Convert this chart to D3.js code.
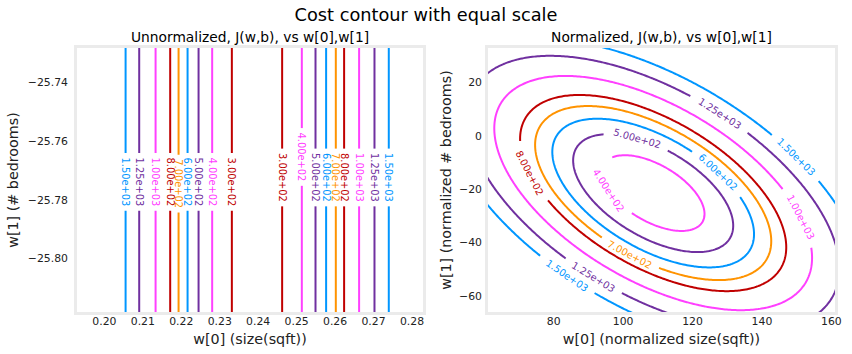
<!DOCTYPE html>
<html><head><meta charset="utf-8">
<script src="https://cdn.jsdelivr.net/npm/d3@7"></script>
<style>body{margin:0;background:#fff}svg text{font-family:"DejaVu Sans",sans-serif}</style>
</head><body><svg id="c" width="852" height="354"></svg>
<script>
// ---------------- data ----------------
const supTitle = "Cost contour with equal scale";
const leftTitle = "Unnormalized, J(w,b), vs w[0],w[1]";
const rightTitle = "Normalized, J(w,b), vs w[0],w[1]";
const leftXLabel = "w[0] (size(sqft))";
const leftYLabel = "w[1] (# bedrooms)";
const rightXLabel = "w[0] (normalized size(sqft))";
const rightYLabel = "w[1] (normalized # bedrooms)";

const contourLevels = [100, 200, 300, 400, 500, 600, 700, 800, 1000, 1250, 1500];
const levelColors = ["#0096ff", "#ff9300", "#c00000", "#ff40ff", "#7030a0"];

// left panel (unnormalized): contour lines are vertical at these w[0]
const leftXDomain = [0.193, 0.283];
const leftYDomain = [-25.81826, -25.72826];
const leftXTicks = [0.20, 0.21, 0.22, 0.23, 0.24, 0.25, 0.26, 0.27, 0.28];
const leftYTicks = [-25.80, -25.78, -25.76, -25.74];
const leftLineLevel = [1500, 1250, 1000, 800, 700, 600, 500, 400, 300, 300, 400, 500, 600, 700, 800, 1000, 1250, 1500];
const leftLineW0 = [0.20564, 0.20918, 0.21344, 0.21724, 0.21942, 0.22176, 0.22462, 0.22816, 0.23328,
                    0.24636, 0.25148, 0.25504, 0.25780, 0.26032, 0.26248, 0.26638, 0.27038, 0.27410];
const leftLabelW1 = [-25.7739, -25.7739, -25.7739, -25.7739, -25.7745, -25.7739, -25.7739, -25.7739, -25.7739,
                     -25.7724, -25.7654, -25.7724, -25.7724, -25.7724, -25.7724, -25.7724, -25.7724, -25.7724];

// right panel (normalized): quadratic cost surface
const rightXDomain = [61.2, 161.2];
const rightYDomain = [-66.1, 32.9];
const rightXTicks = [80, 100, 120, 140, 160];
const rightYTicks = [-60, -40, -20, 0, 20];
const costCenter = [108.8, -21.5];   // w[0], w[1] at minimum
const costMin = 330;
const costQuad = [0.46, 0.265, 0.50]; // a, b, c : J = Jmin + a dx^2 + 2b dx dy + c dy^2
const rightLabelLevel = [800, 400, 500, 600, 1250, 1500, 1000, 700, 1250, 1500];
const rightLabelW0 = [74.2, 95.8, 104.3, 127.8, 128.3, 149.7, 150.8, 102.7, 92.0, 84.3];
const rightLabelW1 = [-13.2, -20.3, -0.85, -13.6, 8.5, -8.2, -30.8, -43.6, -52.0, -51.3];

// ---------------- drawing ----------------
const svg = d3.select("#c");
const colorOf = lv => levelColors[contourLevels.indexOf(lv) % levelColors.length];
const fmtLabel = v => { const e = Math.floor(Math.log10(v)); const m = v / Math.pow(10, e); return m.toFixed(2) + "e+" + String(e).padStart(2, "0"); };

const Lp = {x0: 77, x1: 423, y0: 48, y1: 312};
const Rp = {x0: 488, x1: 835, y0: 48, y1: 312};
const lx = d3.scaleLinear().domain(leftXDomain).range([Lp.x0, Lp.x1]);
const ly = d3.scaleLinear().domain(leftYDomain).range([Lp.y1, Lp.y0]);
const rx = d3.scaleLinear().domain(rightXDomain).range([Rp.x0, Rp.x1]);
const ry = d3.scaleLinear().domain(rightYDomain).range([Rp.y1, Rp.y0]);

const defs = svg.append("defs");
[["clipL", Lp], ["clipR", Rp]].forEach(([id, p]) => {
  defs.append("clipPath").attr("id", id).append("rect")
    .attr("x", p.x0).attr("y", p.y0).attr("width", p.x1 - p.x0).attr("height", p.y1 - p.y0);
});

function frame(p) {
  svg.append("rect").attr("x", p.x0 - 1.5).attr("y", p.y0 - 1.5)
    .attr("width", p.x1 - p.x0 + 3).attr("height", p.y1 - p.y0 + 3)
    .attr("fill", "#fff").attr("stroke", "#ebebeb").attr("stroke-width", 3);
}
frame(Lp); frame(Rp);

// titles
svg.append("text").attr("x", 426).attr("y", 21).attr("text-anchor", "middle")
  .attr("font-size", 17.75).attr("fill", "#000").text(supTitle);
svg.append("text").attr("x", (Lp.x0 + Lp.x1) / 2).attr("y", 42).attr("text-anchor", "middle")
  .attr("font-size", 13.8).attr("fill", "#000").text(leftTitle);
svg.append("text").attr("x", (Rp.x0 + Rp.x1) / 2).attr("y", 42).attr("text-anchor", "middle")
  .attr("font-size", 13.8).attr("fill", "#000").text(rightTitle);

// axes
function styleAxis(g) {
  g.select(".domain").remove();
  g.selectAll("text").attr("font-size", 10.85).attr("fill", "#222").attr("font-family", '"DejaVu Sans", sans-serif');
}
svg.append("g").attr("transform", `translate(0,${Lp.y1})`)
  .call(d3.axisBottom(lx).tickValues(leftXTicks).tickSize(0).tickPadding(5).tickFormat(d3.format(".2f"))).call(styleAxis);
svg.append("g").attr("transform", `translate(${Lp.x0},0)`)
  .call(d3.axisLeft(ly).tickValues(leftYTicks).tickSize(0).tickPadding(9).tickFormat(d3.format(".2f"))).call(styleAxis);
svg.append("g").attr("transform", `translate(0,${Rp.y1})`)
  .call(d3.axisBottom(rx).tickValues(rightXTicks).tickSize(0).tickPadding(5).tickFormat(d3.format("d"))).call(styleAxis);
svg.append("g").attr("transform", `translate(${Rp.x0},0)`)
  .call(d3.axisLeft(ry).tickValues(rightYTicks).tickSize(0).tickPadding(6).tickFormat(d3.format("d"))).call(styleAxis);

// axis labels
svg.append("text").attr("x", (Lp.x0 + Lp.x1) / 2).attr("y", 344).attr("text-anchor", "middle")
  .attr("font-size", 14.3).attr("fill", "#222").text(leftXLabel);
svg.append("text").attr("x", (Rp.x0 + Rp.x1) / 2).attr("y", 344).attr("text-anchor", "middle")
  .attr("font-size", 14.3).attr("fill", "#222").text(rightXLabel);
svg.append("text").attr("transform", `translate(13,${(Lp.y0 + Lp.y1) / 2}) rotate(-90)`)
  .attr("text-anchor", "middle").attr("dominant-baseline", "central")
  .attr("font-size", 14.3).attr("fill", "#222").text(leftYLabel);
svg.append("text").attr("transform", `translate(446,${(Rp.y0 + Rp.y1) / 2}) rotate(-90)`)
  .attr("text-anchor", "middle").attr("dominant-baseline", "central")
  .attr("font-size", 14.3).attr("fill", "#222").text(rightYLabel);

// ---- left panel lines with inline labels ----
const gL = svg.append("g").attr("clip-path", "url(#clipL)");
const gLT = svg.append("g");
leftLineW0.forEach((w0, i) => {
  const lv = leftLineLevel[i], col = colorOf(lv);
  const px = lx(w0), py = ly(leftLabelW1[i]);
  const t = gLT.append("text").attr("transform", `translate(${px},${py}) rotate(90)`)
    .attr("text-anchor", "middle").attr("dominant-baseline", "central")
    .attr("font-size", 9.86).attr("fill", col).text(fmtLabel(lv));
  const half = t.node().getComputedTextLength() / 2 + 4.5;
  gL.append("line").attr("x1", px).attr("x2", px).attr("y1", Lp.y0).attr("y2", py - half)
    .attr("stroke", col).attr("stroke-width", 2);
  gL.append("line").attr("x1", px).attr("x2", px).attr("y1", py + half).attr("y2", Lp.y1)
    .attr("stroke", col).attr("stroke-width", 2);
});

// ---- right panel contours ----
const gx0 = 20, gy0 = -110, step = 0.5, nx = 361, ny = 361;
const grid = new Float64Array(nx * ny);
for (let j = 0; j < ny; j++) for (let i = 0; i < nx; i++) {
  const dx = gx0 + i * step - costCenter[0], dy = gy0 + j * step - costCenter[1];
  grid[j * nx + i] = costMin + costQuad[0] * dx * dx + 2 * costQuad[1] * dx * dy + costQuad[2] * dy * dy;
}
const cont = d3.contours().size([nx, ny]).thresholds(contourLevels)(grid);

const gR = svg.append("g").attr("clip-path", "url(#clipR)");
const gRT = svg.append("g");
const lineGen = d3.line();

cont.forEach(c => {
  const lv = c.value, col = colorOf(lv);
  const rings = [];
  c.coordinates.forEach(poly => poly.forEach(ring => {
    const pts = ring.map(([X, Y]) => [rx(gx0 + (X - 0.5) * step), ry(gy0 + (Y - 0.5) * step)]);
    pts.pop();
    rings.push(pts);
  }));
  if (!rings.length) return;
  const cuts = [];
  rightLabelLevel.forEach((L, k) => {
    if (L !== lv) return;
    const tx = rx(rightLabelW0[k]), ty = ry(rightLabelW1[k]);
    let best = null, bd = Infinity;
    rings.forEach((r, ri) => r.forEach((p, pi) => {
      const d = (p[0] - tx) ** 2 + (p[1] - ty) ** 2;
      if (d < bd) { bd = d; best = [ri, pi]; }
    }));
    const r = rings[best[0]], n = r.length, p = r[best[1]];
    const a = r[(best[1] - 5 + n) % n], b = r[(best[1] + 5) % n];
    let ang = Math.atan2(b[1] - a[1], b[0] - a[0]) * 180 / Math.PI;
    if (ang > 90) ang -= 180; if (ang < -90) ang += 180;
    const t = gRT.append("text").attr("transform", `translate(${p[0]},${p[1]}) rotate(${ang})`)
      .attr("text-anchor", "middle").attr("dominant-baseline", "central")
      .attr("font-size", 9.86).attr("fill", col).text(fmtLabel(lv));
    cuts.push([p[0], p[1], t.node().getComputedTextLength() / 2 + 8]);
  });
  rings.forEach(pts => {
    const n = pts.length;
    const inside = pts.map(p => cuts.some(([cx, cy, rr]) => (p[0] - cx) ** 2 + (p[1] - cy) ** 2 < rr * rr));
    const s = inside.indexOf(true);
    if (s < 0) {
      gR.append("path").attr("d", lineGen(pts) + "Z").attr("fill", "none").attr("stroke", col).attr("stroke-width", 2);
      return;
    }
    let seg = [];
    const flush = () => { if (seg.length > 1) gR.append("path").attr("d", lineGen(seg)).attr("fill", "none").attr("stroke", col).attr("stroke-width", 2); seg = []; };
    for (let k = 1; k <= n; k++) {
      const idx = (s + k) % n;
      if (inside[idx]) flush(); else seg.push(pts[idx]);
    }
    flush();
  });
});
</script></body></html>
